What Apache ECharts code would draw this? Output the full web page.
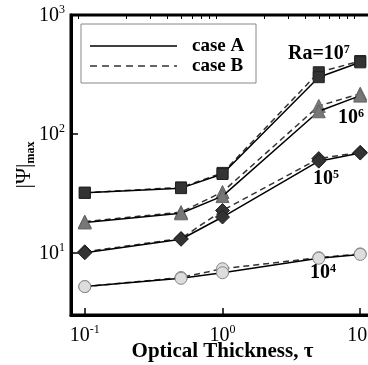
<!DOCTYPE html>
<html>
<head>
<meta charset="utf-8">
<script src="https://cdn.jsdelivr.net/npm/echarts@6/dist/echarts.min.js"></script>
<style>html,body{margin:0;padding:0;background:#fff}#c{width:368px;height:365px}</style>
</head>
<body>
<div id="c"></div>
<script>
// ---- data ----
const tau = [0.1, 0.5, 1, 5, 10];
const ra7A = [32, 35, 46, 300, 400];
const ra7B = [32, 35.5, 47, 330, 410];
const ra6A = [18, 21.5, 30, 155, 210];
const ra6B = [18.3, 22, 32.5, 172, 218];
const ra5A = [10, 13, 20, 59, 69];
const ra5B = [10.2, 13.2, 22.7, 62, 70];
const ra4A = [5.2, 6.1, 6.8, 9.0, 9.7];
const ra4B = [5.2, 6.2, 7.35, 9.1, 9.8];
const xMajor = [0.1, 1, 10];
const yMajor = [10, 100, 1000];
const seriesLabels = ['Ra=10', '10', '10', '10'];
const seriesExp = ['7', '6', '5', '4'];

function minorTicks(lo, hi) {
  const out = [];
  for (let e = -3; e <= 4; e++) {
    for (let m = 2; m <= 9; m++) {
      const v = m * Math.pow(10, e);
      if (v > lo && v < hi) out.push(+v.toPrecision(6));
    }
  }
  return out;
}
const xMin = Math.pow(10, -1.1), xMax = Math.pow(10, 1.1);
const yMin = 3, yMax = 1000;

const serif = '"Liberation Serif", "DejaVu Serif", serif';
const expFmt = v => '{b|10}{s|' + Math.round(Math.log10(v)) + '}';
const tickRich = {
  b: { fontFamily: serif, fontSize: 20, color: '#000', lineHeight: 22, verticalAlign: 'bottom' },
  s: { fontFamily: serif, fontSize: 12, color: '#000', lineHeight: 12, verticalAlign: 'top' }
};

function mkSeries(data, name, dashed, symbol, size, fill, border) {
  return {
    type: 'line', name: name,
    data: tau.map((t, i) => [t, data[i]]),
    xAxisIndex: 0, yAxisIndex: 0,
    symbol: symbol, symbolSize: size,
    itemStyle: { color: fill, borderColor: border, borderWidth: 1 },
    lineStyle: { color: dashed ? '#333' : '#000', width: 1.5, type: dashed ? [6, 4] : 'solid' },
    z: dashed ? 2 : 3,
    animation: false
  };
}

const series = [
  mkSeries(ra7B, 'case B', true, 'rect', 11, '#333', '#222'),
  mkSeries(ra6B, 'case B', true, 'triangle', 13, '#777', '#666'),
  mkSeries(ra5B, 'case B', true, 'diamond', 14, '#333', '#222'),
  mkSeries(ra4B, 'case B', true, 'circle', 12, '#ddd', '#888'),
  mkSeries(ra7A, 'case A', false, 'rect', 11, '#333', '#222'),
  mkSeries(ra6A, 'case A', false, 'triangle', 13, '#777', '#666'),
  mkSeries(ra5A, 'case A', false, 'diamond', 14, '#333', '#222'),
  mkSeries(ra4A, 'case A', false, 'circle', 12, '#ddd', '#888')
];

const annoPos = [[288, 54], [338, 118], [313, 179], [310, 273]];
const graphics = [
  { type: 'rect', shape: { x: 81, y: 24, width: 175, height: 59 }, style: { fill: '#fff', stroke: '#888', lineWidth: 1 }, z: 10 },
  { type: 'line', shape: { x1: 90, y1: 46, x2: 177, y2: 46 }, style: { stroke: '#000', lineWidth: 1.5 }, z: 11 },
  { type: 'line', shape: { x1: 90, y1: 66, x2: 177, y2: 66 }, style: { stroke: '#333', lineWidth: 1.5, lineDash: [7, 5] }, z: 11 },
  { type: 'text', x: 192, y: 46, style: { text: 'case A', font: 'bold 19px ' + serif, fill: '#000', verticalAlign: 'middle' }, z: 11 },
  { type: 'text', x: 192, y: 66, style: { text: 'case B', font: 'bold 19px ' + serif, fill: '#000', verticalAlign: 'middle' }, z: 11 }
];
annoPos.forEach((p, i) => {
  graphics.push({
    type: 'text', x: p[0], y: p[1], z: 11,
    style: {
      text: '{b|' + seriesLabels[i] + '}{s|' + seriesExp[i] + '}',
      verticalAlign: 'middle',
      rich: {
        b: { fontFamily: serif, fontWeight: 'bold', fontSize: 20, fill: '#000', lineHeight: 20, verticalAlign: 'bottom' },
        s: { fontFamily: serif, fontWeight: 'bold', fontSize: 12, fill: '#000', lineHeight: 12, verticalAlign: 'top' }
      }
    }
  });
});

const chart = echarts.init(document.getElementById('c'), null, { renderer: 'canvas' });
chart.setOption({
  animation: false,
  backgroundColor: '#fff',
  grid: { left: 71, right: -6, top: 15, bottom: 50, outerBoundsMode: 'none', containLabel: false, show: true, borderColor: '#000', borderWidth: 3, backgroundColor: 'transparent' },
  xAxis: [
    {
      type: 'log', min: xMin, max: xMax, logBase: 10,
      axisLine: { show: true, lineStyle: { color: '#000', width: 3 } },
      axisTick: { show: true, inside: true, length: 7, customValues: xMajor, lineStyle: { color: '#000', width: 1.5 } },
      axisLabel: { customValues: xMajor, formatter: expFmt, rich: tickRich, margin: 9 },
      splitLine: { show: false },
      name: 'Optical Thickness, τ', nameLocation: 'middle', nameGap: 26, nameMoveOverlap: false,
      nameTextStyle: { fontFamily: serif, fontWeight: 'bold', fontSize: 21, color: '#000' }
    },
    {
      type: 'log', min: xMin, max: xMax, logBase: 10,
      axisLine: { show: false },
      axisTick: { show: true, inside: true, length: 4, customValues: minorTicks(xMin, xMax), lineStyle: { color: '#000', width: 1 } },
      axisLabel: { show: false },
      splitLine: { show: false }
    }
  ],
  yAxis: [
    {
      type: 'log', min: yMin, max: yMax, logBase: 10,
      axisLine: { show: true, lineStyle: { color: '#000', width: 3 } },
      axisTick: { show: true, inside: true, length: 7, customValues: yMajor, lineStyle: { color: '#000', width: 1.5 } },
      axisLabel: { customValues: yMajor, formatter: expFmt, rich: tickRich, margin: 6 },
      splitLine: { show: false },
      name: '{p||Ψ|}{m|max}', nameLocation: 'middle', nameGap: 34, nameMoveOverlap: false,
      nameTextStyle: {
        rich: {
          p: { fontFamily: serif, fontSize: 22, color: '#000', lineHeight: 24, verticalAlign: 'top' },
          m: { fontFamily: serif, fontWeight: 'bold', fontSize: 12, color: '#000', lineHeight: 12, verticalAlign: 'bottom' }
        }
      }
    },
    {
      type: 'log', min: yMin, max: yMax, logBase: 10,
      axisLine: { show: false },
      axisTick: { show: true, inside: true, length: 4, customValues: minorTicks(yMin, yMax), lineStyle: { color: '#000', width: 1 } },
      axisLabel: { show: false },
      splitLine: { show: false }
    }
  ],
  series: series,
  graphic: graphics
});
</script>
</body>
</html>
